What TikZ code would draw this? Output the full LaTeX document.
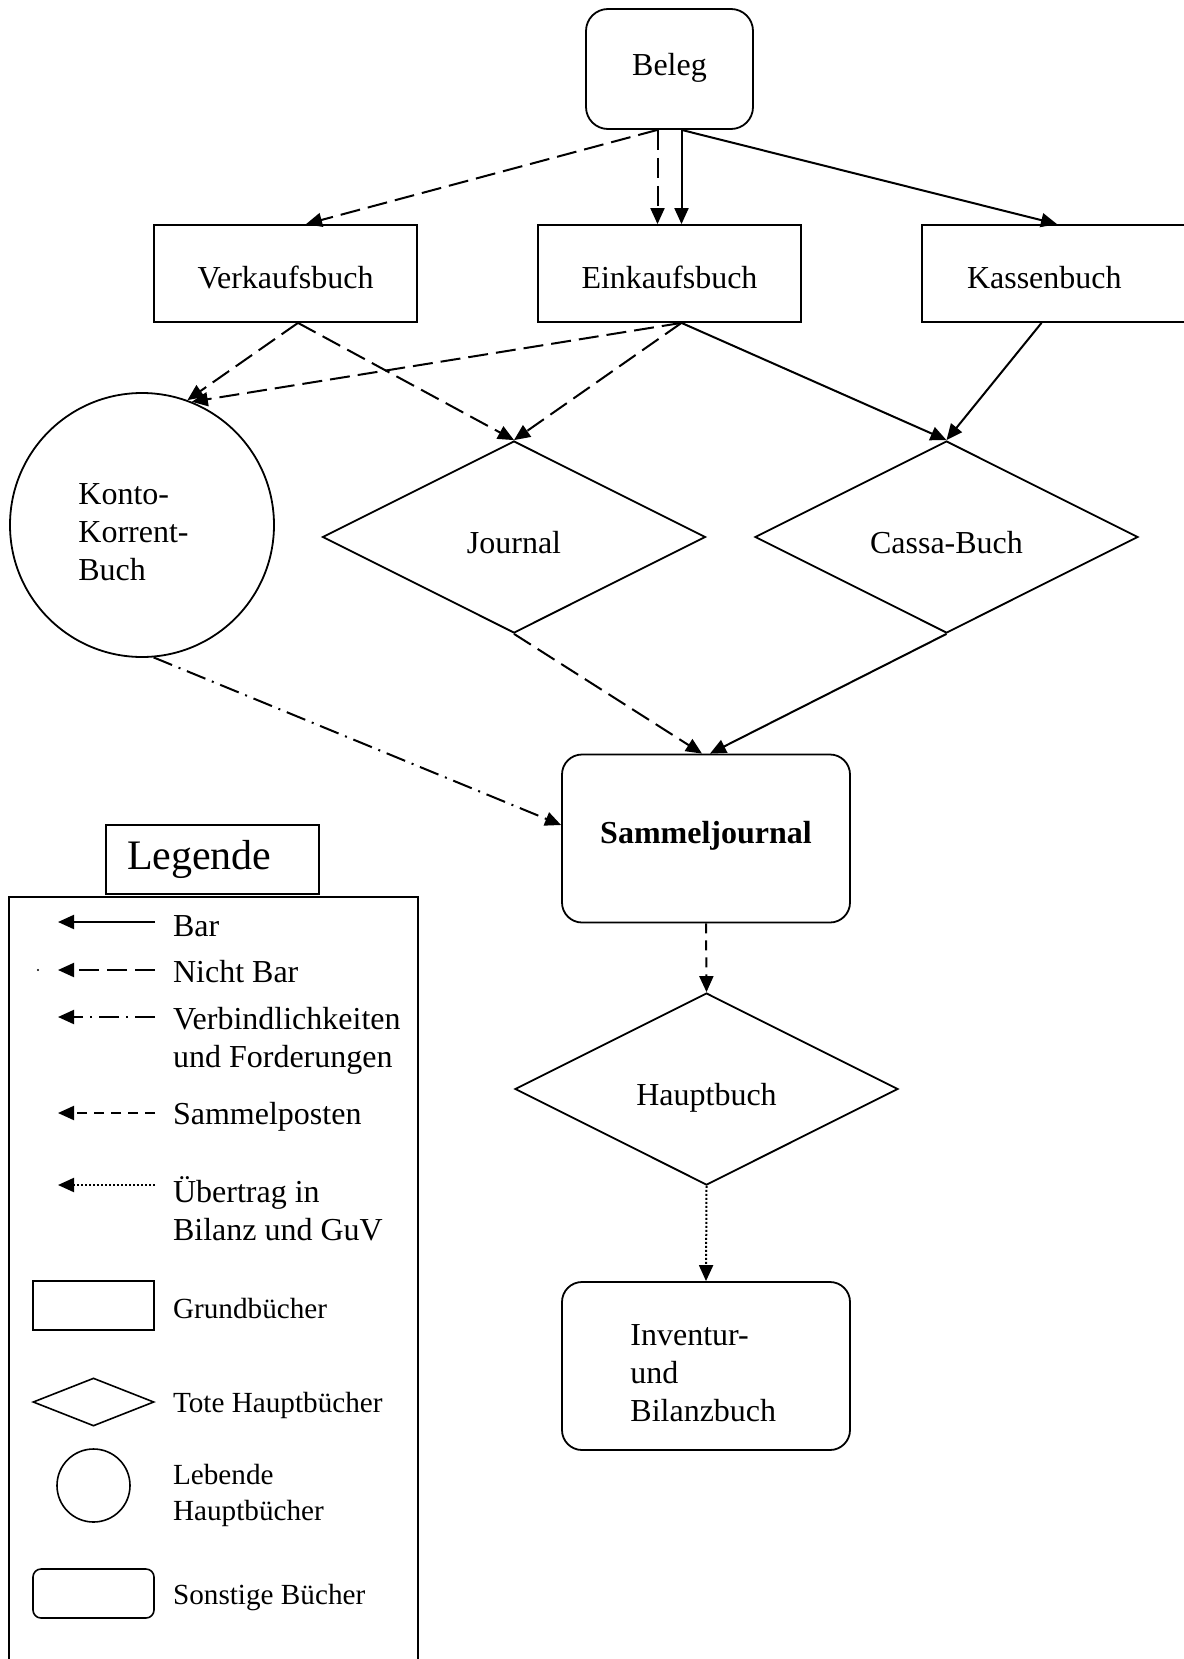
\documentclass[tikz,border=0pt]{standalone}
\usepackage{fontspec}
\setmainfont{Liberation Serif}
\usetikzlibrary{shapes.geometric,arrows.meta}

\begin{document}
\begin{tikzpicture}[x=0.5pt,y=-0.5pt,
		grundbuch/.style={draw, line width=0.9pt, minimum width=131.5pt, minimum height=48.5pt, text height=15pt, text depth=0pt, font=\fontsize{16}{19}\selectfont},
		totbuch/.style={draw, diamond, line width=0.9pt, minimum width=191.5pt, minimum height=96pt, inner sep=0pt, text height=16pt, text depth=0pt, font=\fontsize{16}{19}\selectfont},
		sonstbuch/.style={draw, rounded corners=10pt, line width=0.9pt, minimum width=144pt, minimum height=84pt, font=\fontsize{16}{19}\selectfont},
		buchtext/.style={anchor=west, align=left, inner sep=0pt, font=\fontsize{16}{19}\selectfont},
		barpfeil/.style={-{Triangle[length=8pt,width=7pt]}, line width=1pt},
		nichtbarpfeil/.style={barpfeil, dash pattern=on 10pt off 4pt},
		verbpfeil/.style={barpfeil, dash pattern=on 10pt off 3.5pt on 1pt off 3.5pt},
		sammelpfeil/.style={barpfeil, dash pattern=on 5pt off 3.5pt},
		uebertragpfeil/.style={barpfeil, dash pattern=on 1pt off 1pt},
		legtext/.style={anchor=west, align=left, font=\fontsize{16}{19}\selectfont},
		legklein/.style={legtext, font=\fontsize{14.6}{18}\selectfont},
		legform/.style={draw, line width=0.8pt, inner sep=0pt}
	]
	\useasboundingbox (0,0) rectangle (1183,1659);
	
	% Beleg and Grundbuecher
	\node[sonstbuch, rounded corners=11pt, minimum width=83.5pt, minimum height=60pt, text height=6.3pt, text depth=0pt] (beleg) at (669.5,69) {Beleg};
	\node[grundbuch] (verkauf) at (285.5,273.5) {Verkaufsbuch};
	\node[grundbuch] (einkauf) at (669.5,273.5) {Einkaufsbuch};
	\node[grundbuch, minimum width=132pt, text width=87pt, align=left] (kassen) at (1054,273.5) {Kassenbuch};
	
	% Hauptbuecher
	\node[circle, draw, line width=0.9pt, minimum size=132pt] (kk) at (142,525) {};
	\node[buchtext] (kktext) at (78,532.5) {Konto-\\Korrent-\\Buch};
	\node[totbuch] (journal) at (514,537) {Journal};
	\node[totbuch] (cassa) at (946.5,537) {Cassa-Buch};
	
	\node[sonstbuch, text height=5.3pt, text depth=0pt] (sammel) at (706,838.5) {\bfseries Sammeljournal};
	\node[totbuch] (haupt) at (706.5,1089) {Hauptbuch};
	\node[sonstbuch] (inventur) at (706,1366) {};
	\node[buchtext] (inventurtext) at (630,1373) {Inventur-\\und\\Bilanzbuch};
	
	% Arrows
	\draw[nichtbarpfeil] ([xshift=-6pt]beleg.south) -- ([xshift=10.25pt]verkauf.north);
	\draw[nichtbarpfeil] ([xshift=-6pt]beleg.south) -- ([xshift=-6pt]einkauf.north);
	\draw[barpfeil] ([xshift=6pt]beleg.south) -- ([xshift=6pt]einkauf.north);
	\draw[barpfeil] ([xshift=6pt]beleg.south) -- ([xshift=1.5pt]kassen.north);
	
	\draw[nichtbarpfeil] ([xshift=6.25pt]verkauf.south) -- (kk.70);
	\draw[nichtbarpfeil] ([xshift=6.25pt]verkauf.south) -- (journal.north);
	\draw[nichtbarpfeil] ([xshift=6pt]einkauf.south) -- (kk.68);
	\draw[nichtbarpfeil] ([xshift=6pt]einkauf.south) -- (journal.north);
	\draw[barpfeil] ([xshift=6pt]einkauf.south) -- (cassa.north);
	\draw[barpfeil] ([xshift=-6.25pt]kassen.south) -- (cassa.north);
	
	\draw[nichtbarpfeil] (journal.south) -- ([xshift=-2pt]sammel.north);
	\draw[barpfeil] (cassa.south) -- ([xshift=2pt]sammel.north);
	\draw[verbpfeil] (kk.-85) -- ([yshift=6.75pt]sammel.west);
	
	\draw[sammelpfeil] (sammel.south) -- (haupt.north);
	\draw[uebertragpfeil] (haupt.south) -- (inventur.north);
	
	% Legende
	\node[draw, line width=0.9pt, minimum width=106.5pt, minimum height=34.5pt, text width=85.5pt, inner xsep=10.5pt, align=left, font=\fontsize{21}{25}\selectfont] (legende) at (212.5,859.5) {Legende};
	\draw[line width=0.9pt] (9,897) rectangle (418,1670);
	
	\foreach \ly/\lsty/\lname in {922/barpfeil/bar, 970/nichtbarpfeil/nichtbar, 1017/verbpfeil/verb, 1113/sammelpfeil/sammel, 1185/uebertragpfeil/uebertrag}{
		\coordinate (\lname-a) at (155,\ly);
		\coordinate (\lname-b) at (58,\ly);
		\draw[\lsty] (\lname-a) -- (\lname-b);
	}
	\fill (38,970) circle (0.6pt); % stray dot
	
	\node[legtext] (tbar) at (166,926) {Bar};
	\node[legtext] (tnichtbar) at (166,972) {Nicht Bar};
	\node[legtext] (tverb) at (166,1041) {Verbindlichkeiten\\und Forderungen};
	\node[legtext] (tsammel) at (166,1117) {Sammelposten};
	\node[legtext] (tuebertrag) at (166,1209) {Übertrag in\\Bilanz und GuV};
	
	\node[legform, minimum width=60.5pt, minimum height=24.5pt] (fgrund) at (93.5,1305.5) {};
	\node[legform, diamond, minimum width=60.5pt, minimum height=24pt] (ftot) at (93.5,1402) {};
	\node[legform, circle, minimum size=36.5pt] (fleb) at (93.5,1485.5) {};
	\node[legform, rounded corners=4pt, minimum width=60.5pt, minimum height=24.5pt] (fsonst) at (93.5,1593.5) {};
	
	\node[legklein] (tgrund) at (166,1308) {Grundbücher};
	\node[legklein] (ttot) at (166,1405) {Tote Hauptbücher};
	\node[legklein] (tleb) at (166,1495) {Lebende\\Hauptbücher};
	\node[legklein] (tsonst) at (166,1597) {Sonstige Bücher};
\end{tikzpicture}
\end{document}
